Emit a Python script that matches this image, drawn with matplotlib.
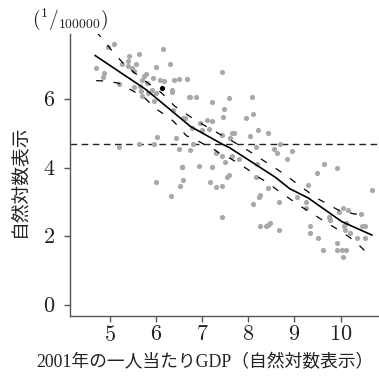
import matplotlib
matplotlib.use("Agg")
import matplotlib.pyplot as plt
from matplotlib.ticker import FuncFormatter

plt.rcParams['font.family'] = ['Liberation Serif', 'Noto Sans CJK JP']
plt.rcParams['mathtext.fontset'] = 'cm'

# scatter data: log GDP per capita 2001 (x) vs log rate (y)
gdp = [4.70, 4.86, 4.85, 4.96, 5.08, 5.25, 5.42, 5.63, 5.38, 5.40, 5.47, 5.56, 5.51,
       6.16, 6.30, 6.00, 5.78, 5.74, 5.70, 5.80, 5.94, 6.08, 6.18, 6.39, 6.49, 6.66,
       5.19, 5.52, 5.64, 5.67, 5.83, 5.90, 6.00, 6.35, 6.35, 5.69, 5.95, 6.71, 6.37,
       6.58, 6.01, 6.43, 5.63, 5.95, 5.19, 6.50, 6.57, 5.99, 6.52, 6.58, 6.33,
       7.42, 6.74, 6.87, 7.22, 7.59, 8.08, 7.48, 8.11, 7.46, 7.95, 6.63, 6.96, 7.10,
       7.21, 6.77, 6.99, 7.14, 7.43, 7.64, 7.69, 7.60, 8.22, 8.03, 8.43, 6.79, 8.69,
       6.74, 7.29, 7.44, 7.49, 7.65, 7.79, 8.16, 8.56, 8.62, 8.94, 8.85, 8.18, 6.57,
       6.92, 7.21, 7.17, 7.30, 7.44, 7.53, 7.58, 8.16, 8.25, 8.23, 8.43, 8.10, 8.66,
       7.44, 8.26, 8.38, 8.43, 8.48, 8.67,
       9.65, 9.93, 9.49, 9.30, 10.68, 9.05, 9.26, 9.25, 9.75, 9.77, 10.06, 10.16, 9.97,
       10.44, 10.11, 10.08, 10.10, 10.21, 10.35, 10.47, 10.53, 10.54, 9.33, 9.33, 9.52,
       9.93, 9.63, 9.92, 10.03, 10.11, 10.05]
rate = [6.91, 6.77, 6.64, 7.51, 7.61, 7.02, 7.27, 7.33, 7.10, 6.98, 6.91, 7.03, 6.81,
        7.46, 7.03, 6.93, 6.74, 6.67, 6.57, 6.47, 6.63, 6.55, 6.53, 6.56, 6.60, 6.60,
        6.45, 6.36, 6.39, 6.25, 6.18, 6.28, 6.19, 6.28, 6.21, 6.08, 5.94, 6.05, 5.69,
        5.45, 4.89, 4.88, 4.70, 4.70, 4.62, 4.55, 4.01, 3.59, 3.47, 3.65, 3.18,
        6.79, 6.05, 6.05, 5.93, 6.02, 6.05, 5.71, 5.57, 5.48, 5.45, 5.45, 5.31, 5.40,
        5.36, 5.15, 5.09, 5.14, 4.95, 5.01, 5.01, 4.87, 5.09, 4.94, 5.02, 4.70, 4.70,
        4.53, 4.44, 4.34, 4.18, 4.33, 4.25, 4.61, 4.55, 4.42, 4.48, 4.25, 4.12, 4.02,
        4.04, 4.01, 3.60, 3.44, 3.47, 3.73, 3.79, 3.72, 3.22, 3.15, 3.41, 2.95, 3.00,
        2.57, 2.31, 2.31, 2.34, 2.40, 2.19,
        4.11, 3.99, 3.86, 3.50, 3.34, 3.14, 3.00, 2.84, 2.58, 2.48, 2.84, 2.77, 2.72,
        2.65, 2.40, 2.31, 2.19, 2.09, 1.95, 2.31, 2.31, 1.95, 2.31, 2.09, 1.95,
        1.80, 1.61, 1.61, 1.61, 1.61, 1.39]

# highlighted point
hl_x = [6.13]
hl_y = [6.32]

# fitted curve
fit_x = [4.68, 5.78, 6.74, 7.42, 7.60, 8.58, 8.90, 9.30, 10.03, 10.68]
fit_y = [7.27, 6.28, 5.21, 4.70, 4.58, 3.73, 3.39, 3.12, 2.43, 2.04]

# confidence bands
up_x = [4.70, 4.81, 5.02, 5.13, 5.33, 5.72, 6.12, 6.41, 6.84, 7.21, 7.60, 8.00, 8.41,
        8.80, 9.16, 9.52, 9.95, 10.31, 10.50]
up_y = [7.97, 7.80, 7.45, 7.28, 6.98, 6.57, 6.18, 5.79, 5.40, 5.11, 4.82, 4.50, 4.14,
        3.80, 3.43, 3.09, 2.77, 2.65, 2.65]
lo_x = [4.70, 4.88, 5.18, 5.29, 5.58, 5.72, 5.94, 6.06, 6.30, 6.43, 6.66, 6.79, 7.06,
        7.21, 7.44, 7.60, 7.86, 8.00, 8.25, 8.38, 8.62, 8.76, 9.00, 9.14, 9.38, 9.52,
        9.77, 9.92, 10.16, 10.30, 10.53, 10.65]
lo_y = [6.54, 6.53, 6.47, 6.39, 6.18, 6.08, 5.79, 5.66, 5.45, 5.28, 4.93, 4.87, 4.67,
        4.58, 4.36, 4.28, 4.07, 3.94, 3.70, 3.60, 3.36, 3.23, 3.00, 2.87, 2.68, 2.55,
        2.34, 2.22, 2.01, 1.87, 1.58, 1.44]

ref_level = 4.70

xticks = [5, 6, 7, 8, 9, 10]
yticks = [0, 2, 4, 6]

fig = plt.figure(figsize=(3.79, 3.78), dpi=100)
ax = fig.add_axes([70/379, 62/378, 309/379, 282/378])

ax.scatter(gdp, rate, s=14, color='#a9a9a9', linewidths=0, zorder=2)
ax.scatter(hl_x, hl_y, s=14, color='black', linewidths=0, zorder=4)
ax.axhline(ref_level, color='#222222', lw=1.0, ls=(0, (4.8, 3.2)), zorder=1)
ax.plot(fit_x, fit_y, color='black', lw=1.2, zorder=3)
ax.plot(up_x, up_y, color='black', lw=0.9, ls=(0, (5.5, 8.5)), zorder=3)
ax.plot(lo_x, lo_y, color='black', lw=0.9, ls=(0, (5.5, 8.5)), zorder=3)

ax.set_xlim(4.132, 10.835)
ax.set_ylim(-0.32, 7.90)
ax.set_xticks(xticks)
ax.set_yticks(yticks)
fmt = FuncFormatter(lambda v, p: f'${v:g}$')
ax.xaxis.set_major_formatter(fmt)
ax.yaxis.set_major_formatter(fmt)

for s in ['top', 'right']:
    ax.spines[s].set_visible(False)
for s in ['left', 'bottom']:
    ax.spines[s].set_color('#555555')
    ax.spines[s].set_linewidth(1.0)
ax.tick_params(axis='both', direction='out', length=4.5, width=1.0, color='#555555',
               labelsize=16, labelcolor='#222222')
ax.tick_params(axis='y', pad=6)
ax.tick_params(axis='x', pad=3)

ax.set_xlabel('2001年の一人当たりGDP（自然対数表示）', fontsize=12.8, color='#222222')
ax.xaxis.set_label_coords(0.437, -0.135)
ax.set_ylabel('自然対数表示', fontsize=13.5, color='#222222')
ax.yaxis.set_label_coords(-0.136, 0.478)

fig.text(32/379, 1 - 19/378, r'$(^{1}/_{100000})$', fontsize=14, ha='left', va='center',
         color='#222222')

fig.savefig('out.png', dpi=100)
